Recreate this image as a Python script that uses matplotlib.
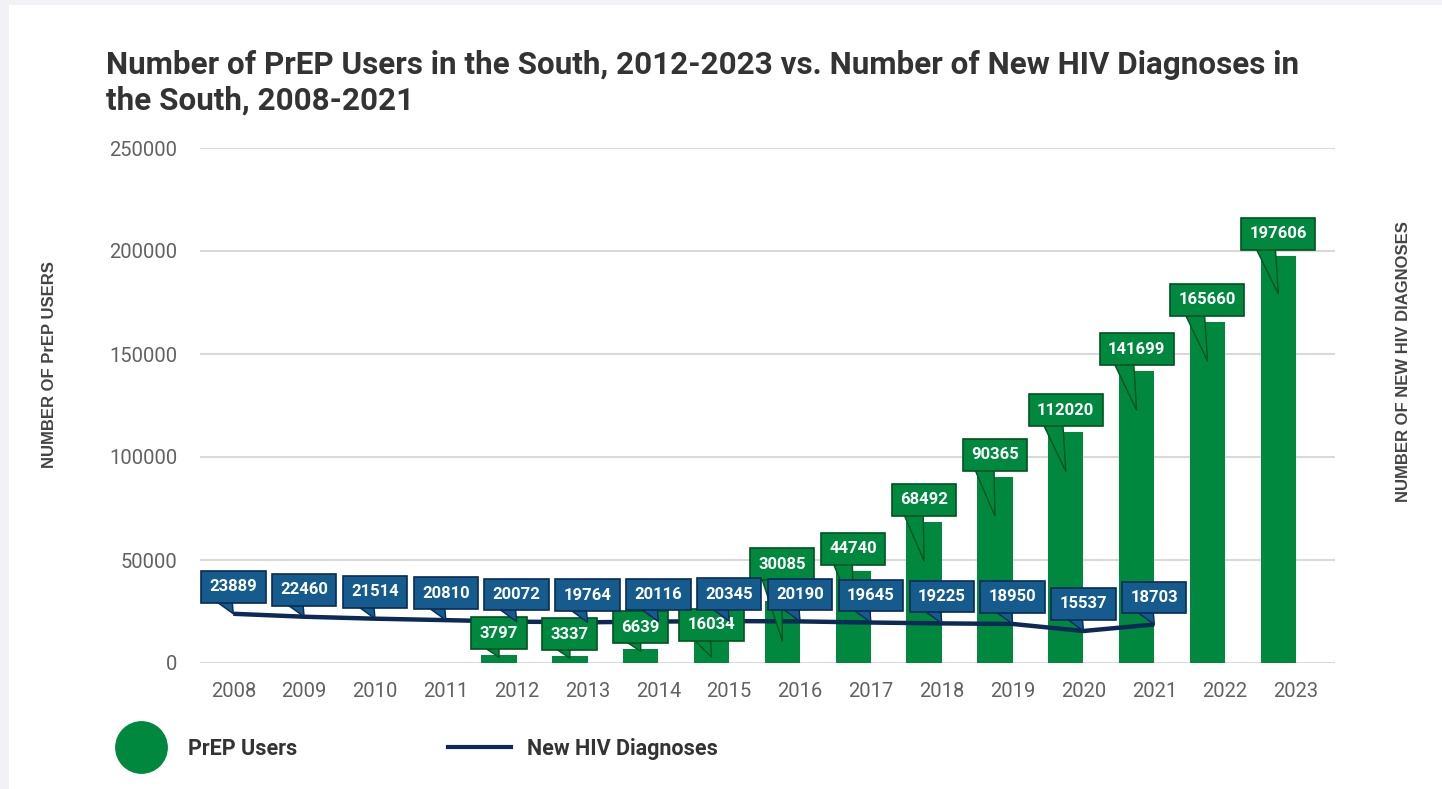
import matplotlib.pyplot as plt
import matplotlib.transforms as mtransforms
from matplotlib.lines import Line2D
from matplotlib.patches import Rectangle

# data
years = list(range(2008, 2024))
prep_years = list(range(2012, 2024))
prep_users = [3797, 3337, 6639, 16034, 30085, 44740, 68492, 90365, 112020, 141699, 165660, 197606]
hiv_years = list(range(2008, 2022))
hiv_diagnoses = [23889, 22460, 21514, 20810, 20072, 19764, 20116, 20345, 20190, 19645,
                 19225, 18950, 15537, 18703]
y_ticks = [0, 50000, 100000, 150000, 200000, 250000]

# label placement (pixels): green box height above bar top, tail tip depth below bar top
green_box_up = [22, 22, 22, 5, 37, 22, 22, 22, 22, 22, 22, 22]
green_tip_drop = [2, 2, 2, 27, 40, 39, 39, 39, 39, 39, 39, 38]
blue_box_up = 27

GREEN = '#00893e'
GREEN_EDGE = '#00521f'
BLUE = '#155b8e'
BLUE_EDGE = '#0b2a55'
NAVY = '#0c2957'

W, H = 1442, 789
fig = plt.figure(figsize=(W / 100, H / 100), dpi=100)
fig.patch.set_facecolor('#f2f1f6')
fig.add_artist(Rectangle((9 / W, 0), 1, 1 - 5 / H, transform=fig.transFigure,
                         facecolor='white', edgecolor='none', zorder=-10))

ax = fig.add_axes([200 / W, (H - 663) / H, 1135 / W, 515 / H])
ax.set_facecolor('white')

x_prep = [years.index(y) for y in prep_years]
x_hiv = [years.index(y) for y in hiv_years]

ax.bar([x - 0.25 for x in x_prep], prep_users, width=0.5, color=GREEN, zorder=2)
ax.plot(x_hiv, hiv_diagnoses, color=NAVY, lw=3.2, zorder=3, solid_capstyle='butt')

ax.set_xlim(-0.47, 15.55)
ax.set_ylim(0, 250000)
ax.set_xticks(range(len(years)))
ax.set_xticklabels([str(y) for y in years])
ax.set_yticks(y_ticks)
ax.set_yticklabels([str(v) for v in y_ticks])
ax.tick_params(length=0, labelsize=14.5, labelcolor='#616161')
ax.tick_params(axis='y', pad=16.5)
ax.tick_params(axis='x', pad=14)
for lab in ax.get_xticklabels() + ax.get_yticklabels():
    lab.set_fontfamily('Roboto')
for s in ax.spines.values():
    s.set_visible(False)
ax.yaxis.grid(True, color='#d9d9d9', lw=1.5)
ax.set_axisbelow(True)


def callout(x, v, up, drop, fc, ec, z):
    tip = mtransforms.offset_copy(ax.transData, fig=fig, x=0, y=-drop, units='dots')
    ax.annotate(str(v), xy=(x, v), xycoords=tip,
                xytext=(0, up + drop), textcoords='offset pixels',
                ha='center', va='center', color='white', fontsize=12,
                fontweight='bold', family='Roboto', zorder=z,
                bbox=dict(boxstyle='square,pad=0.5', fc=fc, ec=ec, lw=1.2),
                arrowprops=dict(arrowstyle='wedge,tail_width=1.0,shrink_factor=0.5',
                                fc=fc, ec=ec, lw=1.0, patchA=None, shrinkA=0,
                                shrinkB=0, relpos=(0.25, 0.1), mutation_scale=16))


for x, v, up, drop in zip(x_prep, prep_users, green_box_up, green_tip_drop):
    callout(x - 0.25, v, up, drop, GREEN, GREEN_EDGE, 4)
for x, v in zip(x_hiv, hiv_diagnoses):
    callout(x, v, blue_box_up, 0, BLUE, BLUE_EDGE, 5)

# titles and axis labels
fig.text(106 / W, 1 - 110 / H,
         'Number of PrEP Users in the South, 2012-2023 vs. Number of New HIV Diagnoses in\nthe South, 2008-2021',
         ha='left', va='baseline', fontsize=22.6, fontweight='bold', color='#333333',
         family='Roboto', linespacing=1.25)
fig.text(50 / W, 1 - 365 / H, 'NUMBER OF PrEP USERS', rotation=90, ha='center', va='center',
         fontsize=12, fontweight='bold', color='#444444', family='Liberation Sans')
fig.text(1403 / W, 1 - 362 / H, 'NUMBER OF NEW HIV DIAGNOSES', rotation=90, ha='center',
         va='center', fontsize=12, fontweight='bold', color='#444444', family='Liberation Sans')

# legend
handles = [Line2D([], [], marker='o', ls='none', markersize=37, color=GREEN),
           Line2D([], [], color=NAVY, lw=3)]
fig.legend(handles, ['PrEP Users', 'New HIV Diagnoses'], loc='center left',
           bbox_to_anchor=(109 / W, 1 - 749 / H), ncol=2, frameon=False, borderpad=0,
           borderaxespad=0, handlelength=2.93, handletextpad=0.74, columnspacing=7.0,
           prop=dict(family='Roboto', weight='bold', size=15.5), labelcolor='#333333')

fig.savefig('out.png', dpi=100, facecolor=fig.get_facecolor())
